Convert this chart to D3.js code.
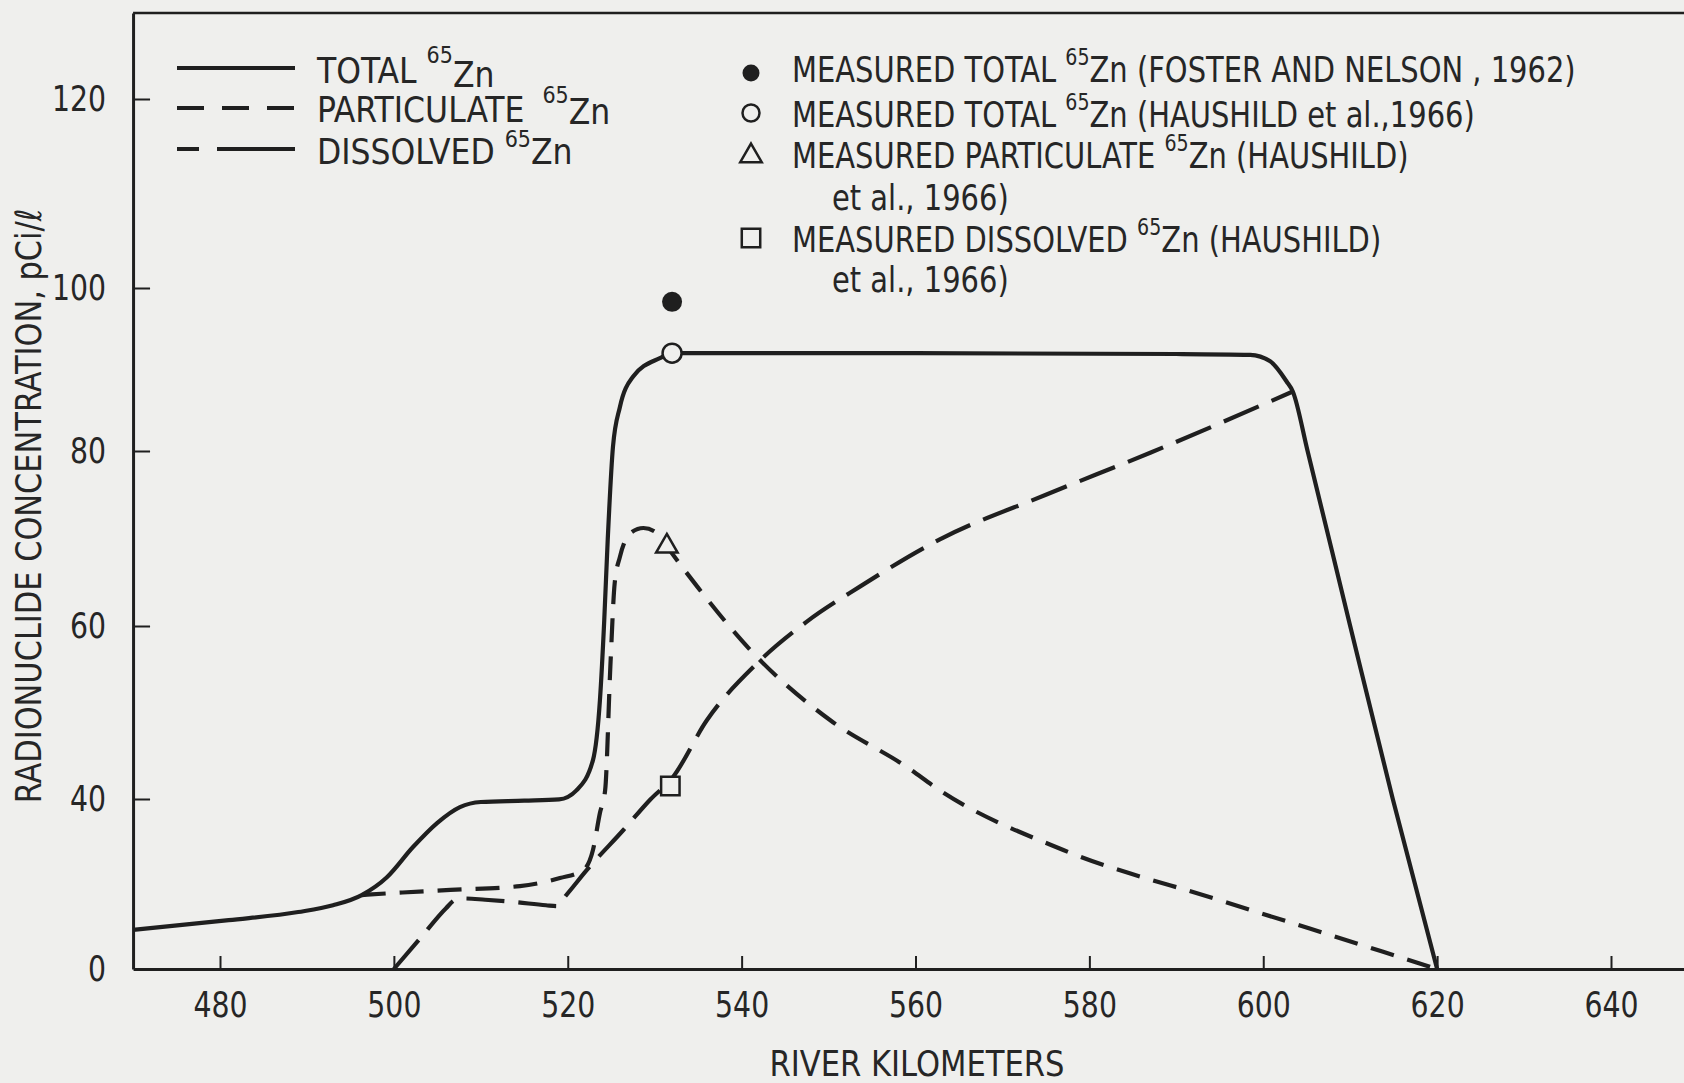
<!DOCTYPE html>
<html><head><meta charset="utf-8">
<script src="https://cdn.jsdelivr.net/npm/d3@7"></script>
<style>
html,body{margin:0;padding:0;background:#efefed;}
svg{display:block;}
text{font-family:"DejaVu Sans Condensed","Liberation Sans Narrow",sans-serif;fill:#262626;}
</style></head><body>
<svg id="chart" width="1684" height="1083"></svg>
<script>
// ---- data ----
const xTicks = [480, 500, 520, 540, 560, 580, 600, 620, 640];
const yTicks = [0, 40, 60, 80, 100, 120];

const totalKm   = [470, 481, 489, 493, 496.3, 499.2, 502.2, 505, 507.6, 510, 515, 519, 521, 522.9, 523.7, 524.2, 524.6, 525.2, 526, 527.5, 530.6, 532, 560, 590, 598.5, 600.8, 602.7, 603.4, 605.1, 610, 614.9, 620];
const totalConc = [9.2, 11.5, 13.4, 15, 17.4, 21.6, 28.7, 34.4, 38.1, 39.3, 39.6, 39.9, 41, 44.5, 51.4, 60.7, 69.9, 80.5, 85.4, 89.1, 91.4, 92, 92, 91.9, 91.8, 91, 88.5, 87.3, 80, 60, 40, 0];

const partKm   = [496.3, 501, 506.5, 514.5, 519.1, 521.8, 522.9, 523.7, 524.3, 524.9, 525.4, 526, 527.2, 528.7, 530.3, 531.4, 534.9, 541.3, 550.2, 559, 562.8, 577, 595.3, 613.7, 620];
const partConc = [17.4, 18, 18.6, 19.5, 21.4, 23.3, 28, 36.7, 41, 55.3, 64.9, 67.9, 70.6, 71.2, 70.6, 69.1, 64.5, 56.9, 49.1, 43.7, 41, 28, 16, 4.1, 0];

const dissKm   = [500, 503, 506, 507, 508, 510.5, 513.7, 517.5, 518.8, 519.6, 520.6, 522.2, 526.4, 529.5, 532, 536, 541.8, 547.5, 553.6, 562.8, 575, 587, 603.4];
const dissConc = [0, 7.15, 14.3, 16.2, 16.6, 16.3, 15.8, 15.0, 14.8, 16.8, 19.3, 23.3, 32.7, 39.9, 42.4, 49.1, 55.7, 60.5, 64.5, 69.9, 75, 79.8, 87.3];

const measuredKm   = [532, 532, 531.4, 531.8];
const measuredConc = [98.3, 92, 69.1, 41.5];
const measuredKind = ["filled", "open", "triangle", "square"];

const lineLegendLabels = ["TOTAL ", "PARTICULATE ", "DISSOLVED "];
const lineLegendKinds  = ["total", "particulate", "dissolved"];

const markerLegendPre  = ["MEASURED TOTAL ", "MEASURED TOTAL ", "MEASURED PARTICULATE ", "", "MEASURED DISSOLVED ", ""];
const markerLegendPost = [" (FOSTER AND NELSON , 1962)", " (HAUSHILD et al.,1966)", " (HAUSHILD)", "et al., 1966)", " (HAUSHILD)", "et al., 1966)"];
const markerLegendKind = ["filled", "open", "triangle", null, "square", null];

const xTitle = "RIVER KILOMETERS";
const yTitle = "RADIONUCLIDE CONCENTRATION, pCi/\u2113";

// ---- drawing ----
const ink = "#1f1f1f";
const bg = "#efefed";
const svg = d3.select("#chart");

const xBase = d3.scaleLinear().domain([480, 640]).range([220, 1611]);
const x = d3.scaleLinear().domain([470, 648.4]).range([xBase(470), xBase(648.4)]);
const y = d3.scaleLinear().domain([0, 40, 60, 80, 100, 120, 129.1]).range([969, 799, 626, 451, 288, 99, 13]);

// top border
svg.append("line")
  .attr("x1", x(470)).attr("x2", x(648.4))
  .attr("y1", y(129.1)).attr("y2", y(129.1))
  .attr("stroke", ink).attr("stroke-width", 2.5);

const xAxis = svg.append("g").attr("transform", `translate(0,${y(0)})`)
  .call(d3.axisBottom(x).tickValues(xTicks).tickSizeInner(-13).tickSizeOuter(0).tickPadding(23).tickFormat(d3.format("d")));
const yAxis = svg.append("g").attr("transform", `translate(${x(470)},0)`)
  .call(d3.axisLeft(y).tickValues(yTicks).tickSizeInner(-17).tickSizeOuter(0).tickPadding(30).tickFormat(d3.format("d")));

[xAxis, yAxis].forEach(g => {
  g.select(".domain").attr("stroke", ink).attr("stroke-width", 3);
  g.selectAll(".tick line").attr("stroke", ink).attr("stroke-width", 2);
  g.selectAll(".tick text").attr("font-size", 35).attr("fill", "#2a2a2a")
    .attr("font-family", '"DejaVu Sans Condensed",sans-serif')
    .attr("transform", "scale(0.9,1)");
});
yAxis.selectAll(".tick").filter(d => d === 0).select("line").remove();

// axis titles
svg.append("text").attr("transform", "translate(917,1076) scale(0.945,1)").attr("text-anchor", "middle")
  .attr("font-size", 36).text(xTitle);
svg.append("text").attr("transform", "translate(41,506) rotate(-90) scale(0.94,1)").attr("text-anchor", "middle")
  .attr("font-size", 36).text(yTitle);

// lines
const line = d3.line().x(d => x(d[0])).y(d => y(d[1])).curve(d3.curveMonotoneX);
const styles = {
  total: {dash: null, w: 4.2},
  particulate: {dash: "24,14", w: 4.2},
  dissolved: {dash: "38,14", w: 4.2}
};
function drawSeries(km, conc, kind) {
  svg.append("path")
    .datum(km.map((k, i) => [k, conc[i]]))
    .attr("d", line)
    .attr("fill", "none")
    .attr("stroke", ink)
    .attr("stroke-width", styles[kind].w)
    .attr("stroke-linejoin", "round")
    .attr("stroke-dasharray", styles[kind].dash);
}
drawSeries(dissKm, dissConc, "dissolved");
drawSeries(partKm, partConc, "particulate");
drawSeries(totalKm, totalConc, "total");

// markers
function marker(g, kind, cx, cy) {
  if (kind === "filled") {
    g.append("circle").attr("cx", cx).attr("cy", cy).attr("r", 10).attr("fill", ink);
  } else if (kind === "open") {
    g.append("circle").attr("cx", cx).attr("cy", cy).attr("r", 9.5).attr("fill", bg).attr("stroke", ink).attr("stroke-width", 2.5);
  } else if (kind === "triangle") {
    g.append("path").attr("d", d3.symbol(d3.symbolTriangle, 200)()).attr("transform", `translate(${cx},${cy})`)
      .attr("fill", bg).attr("stroke", ink).attr("stroke-width", 2.5);
  } else if (kind === "square") {
    g.append("path").attr("d", d3.symbol(d3.symbolSquare, 340)()).attr("transform", `translate(${cx},${cy})`)
      .attr("fill", bg).attr("stroke", ink).attr("stroke-width", 2.5);
  }
}
const mg = svg.append("g");
measuredKm.forEach((k, i) => marker(mg, measuredKind[i], x(k), y(measuredConc[i])));

// line legend
const lineLegY = [68, 108, 149];
const textBase = [83, 122, 164];
const supUp = [-20, -19, -17];
const znDown = [24, 21, 17];
const lg = svg.append("g");
lineLegendKinds.forEach((kind, i) => {
  const l = lg.append("line").attr("x1", 177).attr("x2", 295).attr("y1", lineLegY[i]).attr("y2", lineLegY[i])
    .attr("stroke", ink).attr("stroke-width", 4);
  if (kind === "particulate") l.attr("stroke-dasharray", "27,18");
  if (kind === "dissolved") l.attr("stroke-dasharray", "22,18,78");
  const t = lg.append("text").attr("x", 317).attr("y", textBase[i]).attr("font-size", 35);
  t.append("tspan").text(lineLegendLabels[i]);
  t.append("tspan").attr("font-size", 23).attr("dy", supUp[i]).attr("dx", i === 1 ? 8 : 0).text("65");
  t.append("tspan").attr("dy", znDown[i]).text("Zn");
});

// marker legend
const mlBase = [82, 127, 168, 210, 252, 292];
const mlMarkY = [73, 113, 156, null, 238, null];
const ml = svg.append("g");
markerLegendPre.forEach((pre, i) => {
  const kind = markerLegendKind[i];
  if (kind) {
    marker(ml, kind, 751, mlMarkY[i]);
    const t = ml.append("text").attr("transform", `translate(792,${mlBase[i]}) scale(0.92,1)`).attr("font-size", 35);
    t.append("tspan").text(pre);
    t.append("tspan").attr("font-size", 23).attr("dy", -17).text("65");
    t.append("tspan").attr("dy", 17).text("Zn" + markerLegendPost[i]);
  } else {
    ml.append("text").attr("transform", `translate(832,${mlBase[i]}) scale(0.92,1)`).attr("font-size", 35).text(markerLegendPost[i]);
  }
});
ml.selectAll("circle").attr("r", 8.5);
</script>
</body></html>
